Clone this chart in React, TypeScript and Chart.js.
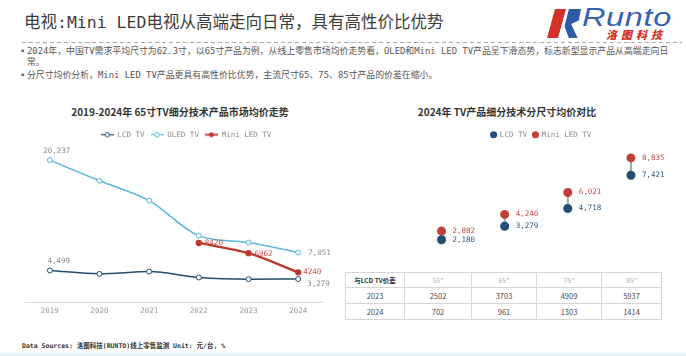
import React, { useEffect, useRef } from "react";
import { Chart, registerables } from "chart.js";

Chart.register(...registerables);

// ---------- data ----------
const years = ["2019", "2020", "2021", "2022", "2023", "2024"];
const lcdTrend = [4499, 4020, 4350, 3500, 3259, 3279];
const oledTrend = [20237, 17290, 14450, 9470, 8475, 7051];
const miniTrend = [null, null, null, 8420, 6962, 4240];

const sizes = ['55"', '65"', '75"', '85"'];
const lcdBySize = [2180, 3279, 4718, 7421];
const miniBySize = [2882, 4240, 6021, 8835];

const gapYears = ["2023", "2024"];
const gap2023 = [2502, 3703, 4909, 5937];
const gap2024 = [702, 961, 1303, 1414];

// ---------- styles ----------
const MONO = '"DejaVu Sans Mono", "Noto Sans CJK SC", monospace';
const CJK = '"Noto Sans CJK SC", "Noto Sans", sans-serif';
const LCD_C = "#1f4e6e";
const OLED_C = "#5cb6d8";
const MINI_C = "#b8392c";
const RED_DOT = "#c0413a";
const BLUE_DOT = "#1f4f78";
const LABEL_GRAY = "#8a8a8a";

const valueLabels = {
  id: "valueLabels",
  afterDatasetsDraw(chart: any, _args: any, opts: any) {
    const specs = opts && opts.specs;
    if (!specs) return;
    const ctx = chart.ctx;
    ctx.save();
    ctx.font = opts.font;
    ctx.textBaseline = "middle";
    Object.keys(specs).forEach((k) => {
      const di = Number(k);
      const meta = chart.getDatasetMeta(di);
      const ds = chart.data.datasets[di];
      specs[di].forEach((s: any) => {
        const el = meta.data[s.i];
        const v = ds.data[s.i];
        if (!el || v == null) return;
        const txt = s.comma ? Number(v).toLocaleString("en-US") : String(v);
        ctx.fillStyle = s.color;
        ctx.textAlign = s.align;
        ctx.fillText(txt, el.x + s.dx, el.y + s.dy);
      });
    });
    ctx.restore();
  },
};

const legendShift = {
  id: "legendShift",
  afterLayout(chart: any, _args: any, opts: any) {
    const dx = (opts && opts.dx) || 0;
    if (chart.legend && dx) {
      chart.legend.left += dx;
      chart.legend.right += dx;
    }
  },
};

function legendIcon(color: string, filled: boolean) {
  const c = document.createElement("canvas");
  c.width = 13;
  c.height = 7;
  const g = c.getContext("2d")!;
  g.strokeStyle = color;
  g.lineWidth = filled ? 1.8 : 1.2;
  g.beginPath();
  g.moveTo(0, 3.5);
  g.lineTo(13, 3.5);
  g.stroke();
  g.beginPath();
  g.arc(6.5, 3.5, filled ? 2 : 2.2, 0, Math.PI * 2);
  g.fillStyle = filled ? color : "#fff";
  g.fill();
  g.lineWidth = 1;
  g.stroke();
  return c;
}

function TrendChart() {
  const ref = useRef<HTMLCanvasElement>(null);
  useEffect(() => {
    const icons = [legendIcon(LCD_C, false), legendIcon(OLED_C, false), legendIcon(MINI_C, true)];
    const chart = new Chart(ref.current!, {
      type: "line",
      data: {
        labels: years,
        datasets: [
          {
            label: "LCD TV",
            data: lcdTrend,
            borderColor: LCD_C,
            backgroundColor: "#fff",
            borderWidth: 1.5,
            pointRadius: 2.5,
            pointBorderWidth: 1,
            pointBackgroundColor: "#fff",
            pointBorderColor: LCD_C,
            cubicInterpolationMode: "monotone",
          },
          {
            label: "OLED TV",
            data: oledTrend,
            borderColor: OLED_C,
            backgroundColor: "#fff",
            borderWidth: 1.5,
            pointRadius: 2.5,
            pointBorderWidth: 1,
            pointBackgroundColor: "#fff",
            pointBorderColor: OLED_C,
            cubicInterpolationMode: "monotone",
          },
          {
            label: "Mini LED TV",
            data: miniTrend,
            borderColor: MINI_C,
            backgroundColor: MINI_C,
            borderWidth: 2.3,
            pointRadius: 2,
            pointBackgroundColor: MINI_C,
            pointBorderColor: MINI_C,
            cubicInterpolationMode: "monotone",
          },
        ] as any,
      },
      options: {
        responsive: false,
        animation: false,
        layout: { padding: { left: 25, right: 17, top: 0, bottom: 4 } },
        plugins: {
          tooltip: { enabled: false },
          legendShift: { dx: 12 },
          legend: {
            labels: {
              usePointStyle: true,
              pointStyleWidth: 13,
              padding: 6,
              color: "#8c8c8c",
              font: { family: MONO, size: 7.5 },
              generateLabels: (ch: any) =>
                ch.data.datasets.map((ds: any, i: number) => ({
                  text: ds.label,
                  pointStyle: icons[i],
                  fillStyle: "transparent",
                  strokeStyle: "transparent",
                  lineWidth: 0,
                  hidden: false,
                  datasetIndex: i,
                  fontColor: "#8c8c8c",
                })),
            },
          },
          valueLabels: {
            font: `7.5px ${MONO}`,
            specs: {
              0: [
                { i: 0, dx: 9, dy: -9, align: "center", comma: true, color: LABEL_GRAY },
                { i: 5, dx: 9, dy: 5, align: "left", comma: true, color: LABEL_GRAY },
              ],
              1: [
                { i: 0, dx: 7, dy: -9, align: "center", comma: true, color: LABEL_GRAY },
                { i: 5, dx: 10, dy: 0, align: "left", comma: true, color: LABEL_GRAY },
              ],
              2: [
                { i: 3, dx: 6, dy: 0, align: "left", comma: false, color: "#c0504d" },
                { i: 4, dx: 6, dy: 1, align: "left", comma: false, color: "#c0504d" },
                { i: 5, dx: 5, dy: 0, align: "left", comma: false, color: "#c0504d" },
              ],
            },
          },
        } as any,
        scales: {
          x: {
            offset: true,
            grid: { display: false, drawTicks: false },
            border: { color: "#dcdcdc" },
            ticks: { color: "#9a9a9a", font: { family: MONO, size: 7.5 }, padding: 5 },
          },
          y: { display: false, min: 0, max: 21900 },
        },
      },
      plugins: [valueLabels as any, legendShift as any],
    });
    return () => chart.destroy();
  }, []);
  return <canvas ref={ref} width={340} height={200} style={{ position: "absolute", left: 0, top: 125, width: 340, height: 200 }} />;
}

function SizeChart() {
  const ref = useRef<HTMLCanvasElement>(null);
  useEffect(() => {
    const chart = new Chart(ref.current!, {
      type: "bar",
      data: {
        labels: sizes,
        datasets: [
          {
            type: "line",
            label: "LCD TV",
            data: lcdBySize,
            showLine: false,
            pointRadius: 4.5,
            pointBorderWidth: 0,
            backgroundColor: BLUE_DOT,
            pointBackgroundColor: BLUE_DOT,
            borderColor: BLUE_DOT,
            order: 1,
          },
          {
            type: "line",
            label: "Mini LED TV",
            data: miniBySize,
            showLine: false,
            pointRadius: 4.5,
            pointBorderWidth: 0,
            backgroundColor: RED_DOT,
            pointBackgroundColor: RED_DOT,
            borderColor: RED_DOT,
            order: 2,
          },
          {
            type: "bar",
            label: "gap",
            data: lcdBySize.map((v, i) => [v, miniBySize[i]]),
            backgroundColor: "#a8a8a8",
            barThickness: 1.5,
            order: 3,
          },
        ] as any,
      },
      options: {
        responsive: false,
        animation: false,
        layout: { padding: { left: 70, right: 23.5, top: 0, bottom: 0 } },
        plugins: {
          tooltip: { enabled: false },
          legendShift: { dx: 5 },
          legend: {
            labels: {
              usePointStyle: true,
              pointStyle: "circle",
              boxWidth: 5,
              boxHeight: 5,
              padding: 6,
              color: "#8c8c8c",
              font: { family: MONO, size: 7.5 },
              filter: (item: any) => item.text !== "gap",
            },
          },
          valueLabels: {
            font: `7.5px ${MONO}`,
            specs: {
              0: [0, 1, 2, 3].map((i) => ({ i, dx: 11, dy: 0, align: "left", comma: true, color: "#2c5a7e" })),
              1: [0, 1, 2, 3].map((i) => ({ i, dx: 11, dy: 0, align: "left", comma: true, color: "#c0504d" })),
            },
          },
        } as any,
        scales: {
          x: { display: false, offset: true },
          y: { display: false, min: 0, max: 9600 },
        },
      },
      plugins: [valueLabels as any, legendShift as any],
    });
    return () => chart.destroy();
  }, []);
  return <canvas ref={ref} width={346} height={146} style={{ position: "absolute", left: 340, top: 125, width: 346, height: 146 }} />;
}

function GapTable() {
  const cell: React.CSSProperties = {
    border: "1px solid #d6d6d6",
    textAlign: "center",
    padding: 0,
    fontFamily: CJK,
    fontSize: 7.5,
    color: "#4a4a4a",
  };
  const widths = [59, 67, 65, 65, 60];
  return (
    <table
      style={{
        position: "absolute",
        left: 345,
        top: 272,
        width: 316,
        borderCollapse: "collapse",
        tableLayout: "fixed",
      }}
    >
      <colgroup>
        {widths.map((w, i) => (
          <col key={i} style={{ width: w }} />
        ))}
      </colgroup>
      <tbody>
        <tr style={{ height: 15 }}>
          <td style={{ ...cell, fontWeight: 700, fontSize: 6.5, color: "#333" }}>与LCD TV价差</td>
          {sizes.map((s) => (
            <td key={s} style={{ ...cell, color: "#b0b0b0", fontSize: 7 }}>
              {s}
            </td>
          ))}
        </tr>
        <tr style={{ height: 16 }}>
          <td style={cell}>{gapYears[0]}</td>
          {gap2023.map((v, i) => (
            <td key={i} style={cell}>
              {v}
            </td>
          ))}
        </tr>
        <tr style={{ height: 16 }}>
          <td style={cell}>{gapYears[1]}</td>
          {gap2024.map((v, i) => (
            <td key={i} style={cell}>
              {v}
            </td>
          ))}
        </tr>
      </tbody>
    </table>
  );
}

function Logo() {
  return (
    <div style={{ position: "absolute", left: 545, top: 6, width: 140, height: 36 }}>
      <div
        style={{
          position: "absolute",
          left: 2,
          top: 3,
          width: 20,
          height: 29,
          background: "#d3312a",
          clipPath: "polygon(40% 0%, 95% 0%, 55% 100%, 0% 100%)",
        }}
      />
      <div
        style={{
          position: "absolute",
          left: 14,
          top: 3,
          width: 22,
          height: 29,
          background: "#2f5aa6",
          clipPath: "polygon(45% 0%, 100% 0%, 90% 40%, 55% 52%, 85% 100%, 45% 100%, 25% 60%)",
        }}
      />
      <div
        style={{
          position: "absolute",
          left: 37,
          top: -2,
          fontFamily: '"Liberation Sans", sans-serif',
          fontStyle: "italic",
          fontSize: 25,
          color: "#3762ad",
          lineHeight: "26px",
          transform: "scaleX(1.3)",
          transformOrigin: "left",
          letterSpacing: 0.5,
        }}
      >
        Runto
      </div>
      <div
        style={{
          position: "absolute",
          left: 61,
          top: 22,
          fontFamily: CJK,
          fontWeight: 900,
          fontStyle: "italic",
          fontSize: 11,
          color: "#d3312a",
          letterSpacing: 4,
          lineHeight: "12px",
        }}
      >
        洛图科技
      </div>
    </div>
  );
}

export default function App() {
  return (
    <div
      style={{
        position: "fixed",
        left: 0,
        top: 0,
        width: 686,
        height: 356,
        background: "#fff",
        overflow: "hidden",
      }}
    >
      <div
        style={{
          position: "absolute",
          left: 24,
          top: 14,
          fontFamily: MONO,
          fontSize: 16.5,
          lineHeight: "18px",
          color: "#3c3c3c",
          whiteSpace: "nowrap",
        }}
      >
        电视:Mini LED电视从高端走向日常，具有高性价比优势
      </div>
      <Logo />
      <div
        style={{
          position: "absolute",
          left: 22,
          top: 42,
          width: 660,
          height: 1,
          background: "repeating-linear-gradient(90deg, #a9a9a9 0 4px, transparent 4px 7px)",
        }}
      />
      <div style={{ position: "absolute", left: 20, top: 46, fontFamily: MONO, fontSize: 8.9, lineHeight: "10.5px", color: "#555" }}>
        <div style={{ position: "relative", paddingLeft: 7, whiteSpace: "nowrap" }}>
          <span style={{ position: "absolute", left: 0 }}>•</span>
          2024年，中国TV需求平均尺寸为62.3寸，以65寸产品为例，从线上零售市场均价走势看，OLED和Mini LED TV产品呈下滑态势，标志新型显示产品从高端走向日
          <br />
          常。
        </div>
        <div style={{ position: "relative", paddingLeft: 7, whiteSpace: "nowrap", marginTop: 3 }}>
          <span style={{ position: "absolute", left: 0 }}>•</span>
          分尺寸均价分析，Mini LED TV产品更具有高性价比优势，主流尺寸65、75、85寸产品的价差在缩小。
        </div>
      </div>

      <div
        style={{
          position: "absolute",
          left: 0,
          top: 105,
          width: 360,
          textAlign: "center",
          fontFamily: CJK,
          fontWeight: 700,
          fontSize: 10,
          lineHeight: "14px",
          color: "#333",
        }}
      >
        2019-2024年 65寸TV细分技术产品市场均价走势
      </div>
      <div
        style={{
          position: "absolute",
          left: 407,
          top: 105,
          width: 200,
          textAlign: "center",
          fontFamily: CJK,
          fontWeight: 700,
          fontSize: 10,
          lineHeight: "14px",
          color: "#333",
        }}
      >
        2024年 TV产品细分技术分尺寸均价对比
      </div>

      <TrendChart />
      <SizeChart />
      <GapTable />

      <div
        style={{
          position: "absolute",
          left: 22,
          top: 341,
          fontFamily: MONO,
          fontWeight: 700,
          fontSize: 6.5,
          lineHeight: "10px",
          color: "#333",
          whiteSpace: "nowrap",
        }}
      >
        Data Sources: 洛图科技(RUNTO)线上零售监测 Unit: 元/台, %
      </div>
      <div style={{ position: "absolute", left: 0, top: 353, width: 686, height: 3, background: "#e2f6f9" }} />
    </div>
  );
}
